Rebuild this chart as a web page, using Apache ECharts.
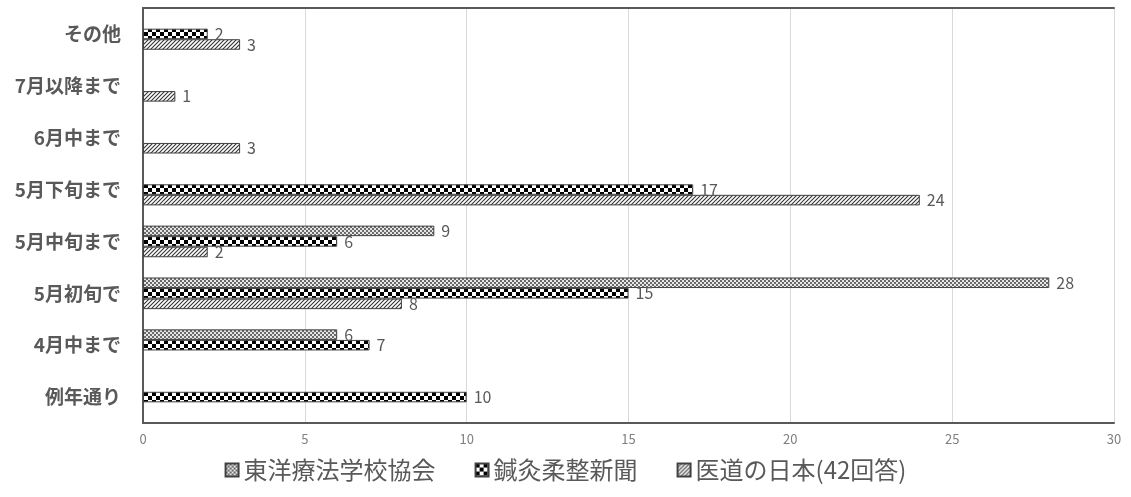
<!DOCTYPE html>
<html>
<head>
<meta charset="utf-8">
<script src="https://cdn.jsdelivr.net/npm/echarts@6/dist/echarts.min.js"></script>
<style>
  html, body { margin: 0; padding: 0; background: #fff; }
  #chart { width: 1131px; height: 497px; }
</style>
</head>
<body>
<div id="chart"></div>
<script>
// Response timing categories (bottom to top)
const categories = ['例年通り', '4月中まで', '5月初旬で', '5月中旬まで', '5月下旬まで', '6月中まで', '7月以降まで', 'その他'];
const seriesNames = ['東洋療法学校協会', '鍼灸柔整新聞', '医道の日本(42回答)'];
const toyoValues = [null, 6, 28, 9, null, null, null, null];
const shinkyuValues = [10, 7, 15, 6, 17, null, null, 2];
const idoValues = [null, null, 8, 2, 24, 3, 1, 3];
const xTicks = { min: 0, max: 30, interval: 5 };

// Fill patterns drawn on small tiles
function tile(size, draw) {
  const c = document.createElement('canvas');
  c.width = size; c.height = size;
  const ctx = c.getContext('2d');
  draw(ctx, size);
  return { image: c, repeat: 'repeat' };
}
const fineDots = tile(4, (ctx) => {
  ctx.fillStyle = '#e6e6e6'; ctx.fillRect(0, 0, 4, 4);
  ctx.fillStyle = '#6a6a6a'; ctx.fillRect(0, 0, 2, 2); ctx.fillRect(2, 2, 2, 2);
});
const checker = tile(8, (ctx) => {
  ctx.fillStyle = '#fff'; ctx.fillRect(0, 0, 8, 8);
  ctx.fillStyle = '#000'; ctx.fillRect(0, 0, 4, 4); ctx.fillRect(4, 4, 4, 4);
});
const hatch = tile(4, (ctx) => {
  ctx.fillStyle = '#fff'; ctx.fillRect(0, 0, 4, 4);
  ctx.strokeStyle = '#333'; ctx.lineWidth = 1.1;
  ctx.beginPath();
  ctx.moveTo(-1, 5); ctx.lineTo(5, -1);
  ctx.moveTo(-1, 1); ctx.lineTo(1, -1);
  ctx.moveTo(3, 5); ctx.lineTo(5, 3);
  ctx.stroke();
});

const font = '"Noto Sans CJK JP", "Noto Sans", sans-serif';
const labelStyle = { show: true, position: 'right', distance: 7, color: '#595959', fontSize: 16, fontFamily: font };

function barSeries(name, data, fill) {
  return {
    name: name, type: 'bar', data: data,
    barGap: '0%', barCategoryGap: '39%',
    itemStyle: { color: fill, borderColor: '#404040', borderWidth: 1 },
    label: labelStyle
  };
}

const chart = echarts.init(document.getElementById('chart'));
chart.setOption({
  animation: false,
  backgroundColor: '#fff',
  textStyle: { fontFamily: font },
  grid: { left: 143, right: 17, top: 8, bottom: 74 },
  legend: {
    bottom: 10, left: 'center',
    data: seriesNames,
    itemWidth: 13, itemHeight: 13, itemGap: 39,
    icon: 'rect',
    textStyle: { fontSize: 24, color: '#595959', fontFamily: font }
  },
  xAxis: [{
    type: 'value', min: xTicks.min, max: xTicks.max, interval: xTicks.interval,
    axisLine: { show: true, lineStyle: { color: '#595959', width: 2 } },
    axisTick: { show: false },
    axisLabel: { color: '#7f7f7f', fontSize: 13, margin: 10 },
    splitLine: { show: true, lineStyle: { color: '#d9d9d9', width: 1 } }
  }, {
    type: 'value', position: 'top', min: xTicks.min, max: xTicks.max,
    axisLine: { show: true, lineStyle: { color: '#595959', width: 2 } },
    axisTick: { show: false }, axisLabel: { show: false }, splitLine: { show: false }
  }],
  yAxis: [{
    type: 'category', data: categories,
    axisLine: { show: true, lineStyle: { color: '#d9d9d9' } },
    axisTick: { show: false },
    axisLabel: { color: '#595959', fontSize: 19, fontWeight: 'bold', margin: 22 }
  }, {
    type: 'category', position: 'right', data: categories,
    axisLine: { show: true, lineStyle: { color: '#595959', width: 2 } },
    axisTick: { show: false }, axisLabel: { show: false }
  }],
  series: [
    barSeries(seriesNames[0], toyoValues, fineDots),
    barSeries(seriesNames[1], shinkyuValues, checker),
    barSeries(seriesNames[2], idoValues, hatch)
  ]
});
</script>
</body>
</html>
